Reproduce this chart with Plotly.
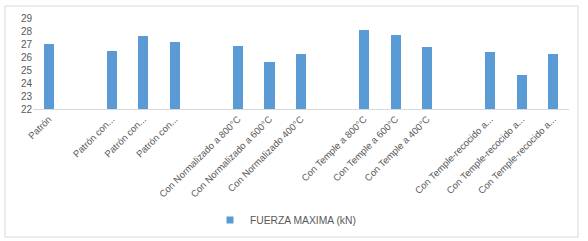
import plotly.graph_objects as go

categories = ["Patrón", "", "Patrón con...", "Patrón con...", "Patrón con...", "",
              "Con Normalizado a 800°C", "Con Normalizado a 600°C", "Con Normalizado 400°C", "",
              "Con Temple a 800°C", "Con Temple a 600°C", "Con Temple a 400°C", "",
              "Con Temple-recocido a...", "Con Temple-recocido a...", "Con Temple-recocido a..."]
fuerza_maxima = [27.02, None, 26.46, 27.62, 27.13, None,
                 26.85, 25.6, 26.25, None,
                 28.08, 27.7, 26.77, None,
                 26.4, 24.65, 26.25]
series_name = "FUERZA MAXIMA (kN)"
y_ticks = [22, 23, 24, 25, 26, 27, 28, 29]
bar_color = "#5B9BD5"

x_idx = list(range(len(categories)))
fig = go.Figure()
fig.add_trace(go.Bar(x=x_idx, y=fuerza_maxima, name=series_name,
                     marker=dict(color=bar_color, line=dict(width=0)),
                     width=0.32, showlegend=False))
# legend key (small square, like the original)
fig.add_trace(go.Scatter(x=[None], y=[None], mode="markers", name=series_name,
                         marker=dict(symbol="square", size=7, color=bar_color),
                         showlegend=True))

L, R, T, B = 33, 19, 18, 132
W, H = 588, 241
pw, ph = W - L - R, H - T - B
fig.update_layout(
    width=W, height=H,
    margin=dict(l=L, r=R, t=T, b=B, autoexpand=False),
    paper_bgcolor="white", plot_bgcolor="white",
    font=dict(family="Liberation Sans", size=9, color="#595959"),
    bargap=0,
    xaxis=dict(tickmode="array", tickvals=x_idx, ticktext=categories,
               tickangle=-45, range=[-0.5, len(categories) - 0.5],
               showline=True, linecolor="#D9D9D9", linewidth=1,
               showgrid=False, ticks="", zeroline=False, automargin=False,
               tickfont=dict(size=9.5, color="#595959")),
    yaxis=dict(range=[22, 29], tickvals=y_ticks, showgrid=False,
               showline=False, zeroline=False, ticks="", automargin=False,
               tickfont=dict(size=10, color="#595959")),
    showlegend=True,
    legend=dict(orientation="h", x=(210 - L) / pw, xanchor="left",
                y=(T + ph - 220) / ph, yanchor="middle",
                font=dict(size=10.3, color="#595959")),
    shapes=[dict(type="rect", xref="paper", yref="paper",
                 x0=(5 - L) / pw, x1=(578 - L) / pw,
                 y0=(T + ph - 237) / ph, y1=(T + ph - 6) / ph,
                 line=dict(color="#D9D9D9", width=1))],
)
post = ("document.body.style.margin='0';document.body.style.overflow='hidden';"
        "var gd=document.getElementById('{plot_id}');"
        "Plotly.relayout(gd,{width:%d,height:%d});" % (W, H))
fig.write_html("out.html", post_script=post,
               config={"responsive": False, "displayModeBar": False})
